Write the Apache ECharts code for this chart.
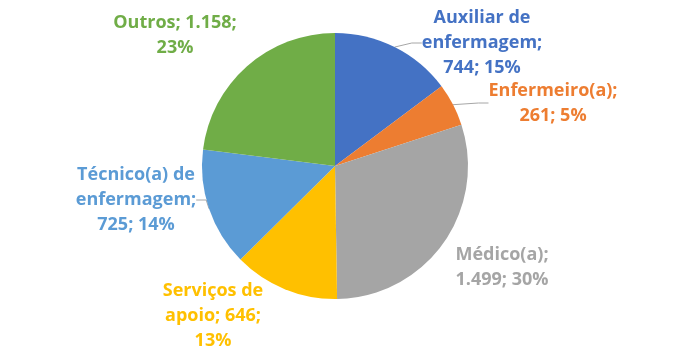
<!DOCTYPE html>
<html><head><meta charset="utf-8">
<script src="https://cdn.jsdelivr.net/npm/echarts@6/dist/echarts.min.js"></script>
<style>html,body{margin:0;padding:0;background:#fff}#c{width:695px;height:356px}</style>
</head><body><div id="c"></div>
<script>
var categories = ['Auxiliar de\nenfermagem', 'Enfermeiro(a)', 'Médico(a)', 'Serviços de\napoio', 'Técnico(a) de\nenfermagem', 'Outros'];
var values = [744, 261, 1499, 646, 725, 1158];
var colors = ['#4472C4', '#ED7D31', '#A5A5A5', '#FFC000', '#5B9BD5', '#70AD47'];
var valueBreak = ['\n', '\n', '\n', ' ', '\n', ' '];
var pctBreak = [' ', ' ', ' ', '\n', ' ', '\n'];
var labelPos = [[482, 43], [553, 103], [502, 267], [213, 316], [136, 200], [175, 35]];
var showLine = [true, true, false, false, true, false];

function fmtNum(v) { return v.toString().replace(/\B(?=(\d{3})+(?!\d))/g, '.'); }

var chart = echarts.init(document.getElementById('c'), null, {renderer: 'canvas'});
chart.setOption({
  animation: false,
  series: [{
    type: 'pie',
    center: [335, 166],
    radius: 133,
    startAngle: 90,
    clockwise: true,
    data: categories.map(function (n, i) {
      return {
        name: n, value: values[i],
        itemStyle: {color: colors[i]},
        label: {color: colors[i]},
        labelLine: {show: showLine[i]}
      };
    }),
    label: {
      show: true,
      position: 'outside',
      fontFamily: 'Open Sans',
      fontWeight: 'bold',
      fontSize: 18,
      lineHeight: 25,
      align: 'center',
      formatter: function (p) {
        var i = p.dataIndex;
        return p.name + ';' + valueBreak[i] + fmtNum(p.value) + ';' + pctBreak[i] + Math.round(p.percent) + '%';
      }
    },
    labelLine: {lineStyle: {color: '#A6A6A6', width: 1}, length: 10, length2: 10},
    labelLayout: function (params) {
      var i = params.dataIndex;
      return {x: labelPos[i][0], y: labelPos[i][1], align: 'center', verticalAlign: 'middle'};
    }
  }]
});
</script></body></html>
